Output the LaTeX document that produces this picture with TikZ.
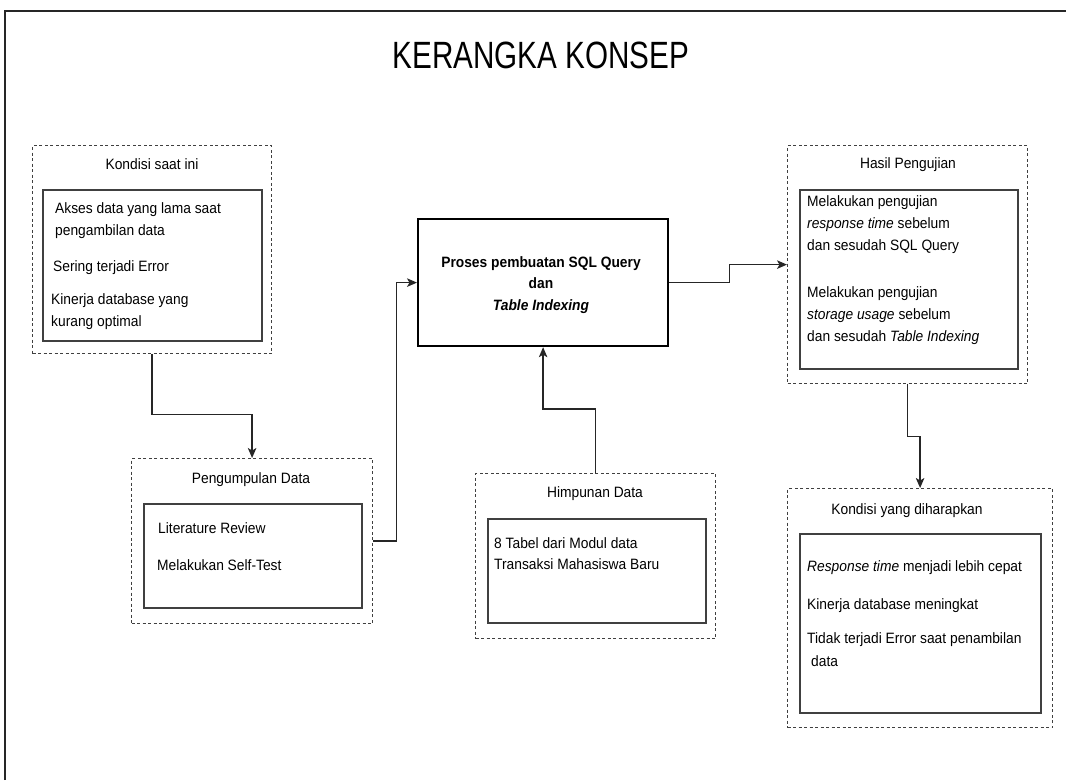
\documentclass[tikz,border=0pt]{standalone}
\usepackage{fontspec}
\setmainfont{Liberation Sans}[FakeStretch=0.92]
\newfontfamily\titlefont{Liberation Sans}[FakeStretch=0.78]
\usetikzlibrary{arrows.meta}
\begin{document}
\begin{tikzpicture}[x=1pt,y=-1pt,
  frame/.style={line width=2pt, black!85},
  outerbox/.style={draw=black!75, line width=1.2pt, dash pattern=on 3pt off 2.5pt, inner sep=0, anchor=north west},
  innerbox/.style={draw=black!75, line width=1.6pt, inner sep=0, anchor=north west},
  procbox/.style={draw=black, line width=2.2pt, inner sep=0, anchor=north west},
  boxtitle/.style={font=\fontsize{15}{17}\selectfont, inner sep=0},
  item/.style={font=\fontsize{15}{17}\selectfont, anchor=west, inner sep=0, text height=10.5pt, text depth=3pt},
  conn/.style={draw=black!85, line width=1.4pt, -{Stealth[length=10pt,width=8.5pt,inset=2.5pt]}},
]
\useasboundingbox (0,0) rectangle (1066,780);
\fill[white] (0,0) rectangle (1066,780);
\draw[frame] (5,780) -- (5,11) -- (1066,11);

\node[font=\titlefont\fontsize{38}{40}\selectfont, inner sep=0] (title) at (541,55) {KERANGKA KONSEP};

% Kondisi saat ini
\node[outerbox, minimum width=239pt, minimum height=208pt] (kond) at (32,145) {};
\node[innerbox, minimum width=219pt, minimum height=151pt] (kondin) at (42,189) {};
\node[boxtitle] (kondt) at (152,164) {Kondisi saat ini};
\node[item] (k1) at (55,210) {Akses data yang lama saat};
\node[item] (k2) at (55,232) {pengambilan data};
\node[item] (k3) at (53,268) {Sering terjadi Error};
\node[item] (k4) at (51,301) {Kinerja database yang};
\node[item] (k5) at (51,323) {kurang optimal};

% Pengumpulan Data
\node[outerbox, minimum width=241pt, minimum height=165pt] (peng) at (131,458) {};
\node[innerbox, minimum width=218pt, minimum height=104pt] (pengin) at (143,503) {};
\node[boxtitle] (pengt) at (251,480) {Pengumpulan Data};
\node[item] (p1) at (158,530) {Literature Review};
\node[item] (p2) at (157,567) {Melakukan Self-Test};

% Proses
\node[procbox, minimum width=250pt, minimum height=127pt] (proc) at (417,218) {};
\node[font=\bfseries\fontsize{15}{21.5}\selectfont, align=center, inner sep=0] (proct) at (541,285)
  {Proses pembuatan SQL Query\\dan\\\textit{Table Indexing}};

% Himpunan Data
\node[outerbox, minimum width=240pt, minimum height=165pt] (himp) at (475,473) {};
\node[innerbox, minimum width=218pt, minimum height=104pt] (himpin) at (487,518) {};
\node[boxtitle] (himpt) at (595,494) {Himpunan Data};
\node[item] (h1) at (494,545) {8 Tabel dari Modul data};
\node[item] (h2) at (494,566) {Transaksi Mahasiswa Baru};

% Hasil Pengujian
\node[outerbox, minimum width=240pt, minimum height=238pt] (hasil) at (787,145) {};
\node[innerbox, minimum width=218pt, minimum height=179pt] (hasilin) at (799,189) {};
\node[boxtitle] (hasilt) at (908,165) {Hasil Pengujian};
\node[item] (r1) at (807,203) {Melakukan pengujian};
\node[item] (r2) at (807,225) {\textit{response time} sebelum};
\node[item] (r3) at (807,247) {dan sesudah SQL Query};
\node[item] (r4) at (807,294) {Melakukan pengujian};
\node[item] (r5) at (807,316) {\textit{storage usage} sebelum};
\node[item] (r6) at (807,338) {dan sesudah \textit{Table Indexing}};

% Kondisi yang diharapkan
\node[outerbox, minimum width=265pt, minimum height=239pt] (harap) at (787,488) {};
\node[innerbox, minimum width=241pt, minimum height=179pt] (harapin) at (799,533) {};
\node[boxtitle] (harapt) at (907,511) {Kondisi yang diharapkan};
\node[item] (e1) at (807,568) {\textit{Response time} menjadi lebih cepat};
\node[item] (e2) at (807,606) {Kinerja database meningkat};
\node[item] (e3) at (807,640) {Tidak terjadi Error saat penambilan};
\node[item] (e4) at (811,663) {data};

% Connectors
\draw[conn] (kond.south) -- ++(0,60) -| (peng.north);
\draw[conn] (peng.east) -- ++(23,0) |- (proc.west);
\draw[conn] (proc.east) -- ++(60,0) |- (hasil.west);
\draw[conn] (himp.north) -- ++(0,-64) -| (proc.south);
\draw[conn] (hasil.south) -- ++(0,52) -| (harap.north);
\end{tikzpicture}
\end{document}
